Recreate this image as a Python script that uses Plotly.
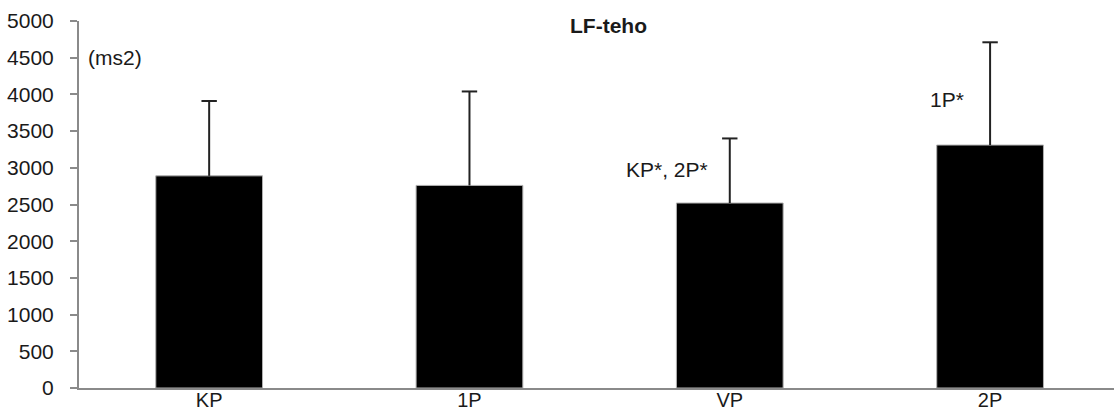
import plotly.graph_objects as go

# LF power (ms2) per measurement point, mean and SD
categories = ["KP", "1P", "VP", "2P"]
means = [2890, 2760, 2520, 3310]
sds = [1020, 1280, 880, 1400]
y_ticks = [0, 500, 1000, 1500, 2000, 2500, 3000, 3500, 4000, 4500, 5000]

FONT = "Liberation Sans, Arial, sans-serif"
TEXT = "#1a1a1a"
AXIS = "#8a8a8a"
WHISKER = "#222222"
FS = 21

upper = [m + s for m, s in zip(means, sds)]

fig = go.Figure()

# bars with an upward-only SD stem (no caps here)
fig.add_trace(go.Bar(
    x=categories,
    y=means,
    marker=dict(color="black", line=dict(color="#b0b0b0", width=1)),
    error_y=dict(type="data", array=sds, arrayminus=[0] * len(sds),
                 symmetric=False, color=WHISKER, thickness=2, width=0),
    width=0.41,
))

# cap at the end of each SD whisker
fig.add_trace(go.Scatter(
    x=categories,
    y=upper,
    mode="markers",
    marker=dict(symbol="line-ew-open", size=11, color=WHISKER,
                line=dict(color=WHISKER, width=2)),
    hoverinfo="skip",
))

fig.update_layout(
    width=1114,
    height=414,
    margin=dict(l=79, r=0, t=21, b=26),
    paper_bgcolor="white",
    plot_bgcolor="white",
    showlegend=False,
    font=dict(family=FONT, size=FS, color=TEXT),
    xaxis=dict(
        type="category",
        range=[-0.5, 3.476],
        automargin=False,
        showline=True, linecolor=AXIS, linewidth=2,
        ticks="", showgrid=False, zeroline=False,
        ticklabelstandoff=-7,
        tickfont=dict(size=FS - 1, color=TEXT),
    ),
    yaxis=dict(
        range=[0, 5000],
        tickvals=y_ticks,
        automargin=False,
        showline=True, linecolor=AXIS, linewidth=2,
        ticks="outside", ticklen=7, tickcolor=AXIS, tickwidth=2,
        showgrid=False, zeroline=False,
        ticklabelstandoff=12,
        tickfont=dict(size=FS, color=TEXT),
    ),
    annotations=[
        dict(text="<b>LF-teho</b>", xref="paper", yref="paper",
             x=(608 - 79) / 1035, y=1 + (21 - 25) / 367, showarrow=False,
             font=dict(size=FS, color=TEXT), xanchor="center", yanchor="middle"),
        dict(text="(ms2)", xref="x", yref="y", x=-0.4725, y=4500,
             showarrow=False, xanchor="left", yanchor="middle"),
        dict(text="KP*, 2P*", xref="x", yref="y", x=1.76, y=2973,
             showarrow=False, xanchor="center", yanchor="middle"),
        dict(text="1P*", xref="x", yref="y", x=2.835, y=3927,
             showarrow=False, xanchor="center", yanchor="middle"),
    ],
)

fig.write_html("out.html")
